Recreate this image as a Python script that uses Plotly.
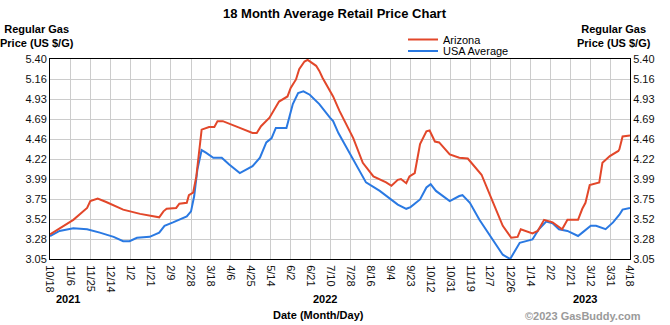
import plotly.graph_objects as go

# ---------------- data ----------------
az_dates = ["2021-10-18", "2021-11-09", "2021-11-22", "2021-11-25", "2021-12-02", "2021-12-10",
            "2021-12-26", "2022-01-11", "2022-01-29", "2022-02-02", "2022-02-05", "2022-02-14",
            "2022-02-17", "2022-02-24", "2022-02-26", "2022-03-02", "2022-03-05", "2022-03-07",
            "2022-03-10", "2022-03-17", "2022-03-22", "2022-03-25", "2022-03-30", "2022-04-15",
            "2022-04-27", "2022-05-01", "2022-05-05", "2022-05-13", "2022-05-22", "2022-05-30",
            "2022-06-02", "2022-06-07", "2022-06-10", "2022-06-15", "2022-06-18", "2022-06-26",
            "2022-06-29", "2022-07-02", "2022-07-12", "2022-07-18", "2022-07-31", "2022-08-09",
            "2022-08-19", "2022-08-31", "2022-09-05", "2022-09-11", "2022-09-14", "2022-09-19",
            "2022-09-22", "2022-09-27", "2022-10-02", "2022-10-08", "2022-10-11", "2022-10-16",
            "2022-10-20", "2022-10-30", "2022-11-08", "2022-11-16", "2022-11-21", "2022-11-29",
            "2022-12-10", "2022-12-19", "2022-12-27", "2023-01-02", "2023-01-05", "2023-01-10",
            "2023-01-16", "2023-01-21", "2023-01-27", "2023-02-04", "2023-02-13", "2023-02-18",
            "2023-02-28", "2023-03-04", "2023-03-07", "2023-03-11", "2023-03-20", "2023-03-23",
            "2023-03-30", "2023-04-07", "2023-04-08", "2023-04-11", "2023-04-18"]
az_values = [3.34, 3.51, 3.65, 3.73, 3.76, 3.72,
             3.63, 3.58, 3.54, 3.61, 3.64, 3.65,
             3.70, 3.71, 3.80, 3.83, 4.02, 4.26,
             4.57, 4.60, 4.60, 4.67, 4.67, 4.59,
             4.53, 4.53, 4.61, 4.71, 4.90, 4.96,
             5.06, 5.16, 5.28, 5.37, 5.39, 5.32,
             5.26, 5.18, 4.96, 4.79, 4.47, 4.18,
             4.02, 3.95, 3.91, 3.98, 3.99, 3.94,
             4.02, 4.06, 4.40, 4.55, 4.56, 4.43,
             4.42, 4.28, 4.24, 4.23, 4.16, 4.04,
             3.71, 3.44, 3.30, 3.31, 3.40, 3.38,
             3.35, 3.38, 3.51, 3.48, 3.40, 3.51,
             3.51, 3.64, 3.71, 3.92, 3.95, 4.18,
             4.26, 4.32, 4.34, 4.49, 4.50]

usa_dates = ["2021-10-18", "2021-10-27", "2021-11-09", "2021-11-22", "2021-12-04", "2021-12-17",
             "2021-12-26", "2022-01-01", "2022-01-08", "2022-01-20", "2022-01-29", "2022-02-03",
             "2022-02-11", "2022-02-17", "2022-02-24", "2022-02-28", "2022-03-03", "2022-03-06",
             "2022-03-10", "2022-03-14", "2022-03-21", "2022-03-29", "2022-04-05", "2022-04-15",
             "2022-04-20", "2022-04-27", "2022-05-04", "2022-05-10", "2022-05-15", "2022-05-19",
             "2022-05-29", "2022-06-01", "2022-06-04", "2022-06-09", "2022-06-14", "2022-06-20",
             "2022-06-29", "2022-07-09", "2022-07-12", "2022-07-17", "2022-07-31", "2022-08-12",
             "2022-08-25", "2022-09-05", "2022-09-11", "2022-09-19", "2022-09-23", "2022-10-02",
             "2022-10-08", "2022-10-12", "2022-10-17", "2022-10-30", "2022-11-08", "2022-11-11",
             "2022-11-18", "2022-11-27", "2022-12-10", "2022-12-19", "2022-12-26", "2022-12-30",
             "2023-01-04", "2023-01-10", "2023-01-16", "2023-01-22", "2023-01-29", "2023-02-04",
             "2023-02-10", "2023-02-18", "2023-02-28", "2023-03-04", "2023-03-12", "2023-03-17",
             "2023-03-21", "2023-03-26", "2023-04-02", "2023-04-08", "2023-04-11", "2023-04-18"]
usa_values = [3.32, 3.38, 3.41, 3.40, 3.36, 3.31,
              3.26, 3.26, 3.30, 3.31, 3.36, 3.44,
              3.48, 3.51, 3.55, 3.61, 3.79, 4.10,
              4.33, 4.30, 4.24, 4.24, 4.16, 4.06,
              4.09, 4.14, 4.24, 4.42, 4.47, 4.59,
              4.59, 4.73, 4.87, 5.00, 5.02, 4.98,
              4.87, 4.71, 4.67, 4.53, 4.22, 3.95,
              3.85, 3.75, 3.69, 3.64, 3.66, 3.75,
              3.89, 3.93, 3.85, 3.73, 3.79, 3.80,
              3.71, 3.51, 3.26, 3.10, 3.05, 3.14,
              3.24, 3.26, 3.28, 3.40, 3.49, 3.47,
              3.40, 3.38, 3.32, 3.36, 3.44, 3.44,
              3.42, 3.40, 3.48, 3.57, 3.63, 3.65]

tick_dates = ["2021-10-18", "2021-11-06", "2021-11-25", "2021-12-14", "2022-01-02", "2022-01-21",
              "2022-02-09", "2022-02-28", "2022-03-18", "2022-04-06", "2022-04-25", "2022-05-14",
              "2022-06-02", "2022-06-21", "2022-07-10", "2022-07-28", "2022-08-16", "2022-09-04",
              "2022-09-23", "2022-10-12", "2022-10-31", "2022-11-19", "2022-12-07", "2022-12-26",
              "2023-01-14", "2023-02-02", "2023-02-21", "2023-03-12", "2023-03-31", "2023-04-18"]
tick_labels = ["10/18", "11/6", "11/25", "12/14", "1/2", "1/21", "2/9", "2/28", "3/18", "4/6",
               "4/25", "5/14", "6/2", "6/21", "7/10", "7/28", "8/16", "9/4", "9/23", "10/12",
               "10/31", "11/19", "12/7", "12/26", "1/14", "2/2", "2/21", "3/12", "3/31", "4/18"]
y_ticks = [3.05, 3.28, 3.52, 3.75, 3.99, 4.22, 4.46, 4.69, 4.93, 5.16, 5.40]
y_labels = ["3.05", "3.28", "3.52", "3.75", "3.99", "4.22", "4.46", "4.69", "4.93", "5.16", "5.40"]
years = ["2021", "2022", "2023"]

# ---------------- figure ----------------
FONT = "Liberation Sans, Arial, sans-serif"
RED = "#E2472A"
BLUE = "#2A79E2"
W, H = 670, 325
L, R, T, B = 50, 40, 59, 66
PW, PH = W - L - R, H - T - B

def px(x):
    return (x - L) / PW

def py(y):
    return (H - B - y) / PH

fig = go.Figure()
fig.add_trace(go.Scatter(x=usa_dates, y=usa_values, mode="lines", name="USA Average",
                         line=dict(color=BLUE, width=2), legend="legend2", yaxis="y"))
fig.add_trace(go.Scatter(x=az_dates, y=az_values, mode="lines", name="Arizona",
                         line=dict(color=RED, width=2), legend="legend", yaxis="y2"))

yax = dict(range=[3.05, 5.40], tickvals=y_ticks, ticktext=y_labels, showgrid=True,
           gridcolor="#cccccc", gridwidth=1, zeroline=False, showline=True, linecolor="black",
           linewidth=1, ticks="", tickfont=dict(family=FONT, size=11, color="#111111"),
           fixedrange=True)

fig.update_layout(
    width=W, height=H,
    margin=dict(l=L, r=R, t=T, b=B),
    paper_bgcolor="white", plot_bgcolor="white",
    font=dict(family=FONT, size=11, color="black"),
    xaxis=dict(type="date", range=["2021-10-18", "2023-04-18"], tickvals=tick_dates,
               ticktext=tick_labels, tickangle=90, showgrid=True, gridcolor="#cccccc",
               gridwidth=1, showline=True, linecolor="black", linewidth=1, mirror=True,
               ticks="", ticklabelstandoff=3,
               tickfont=dict(family=FONT, size=11, color="#111111"), zeroline=False),
    yaxis=dict(**yax, side="left", mirror=True),
    yaxis2=dict(**{**yax, "showgrid": False}, side="right", overlaying="y"),
    legend=dict(x=px(403), y=py(39.5), xanchor="left", yanchor="middle",
                bgcolor="rgba(0,0,0,0)", font=dict(family=FONT, size=11, color="black")),
    legend2=dict(x=px(403), y=py(51), xanchor="left", yanchor="middle",
                 bgcolor="rgba(0,0,0,0)", font=dict(family=FONT, size=11, color="black")),
    showlegend=True,
)

ann = []
ann.append(dict(text="<b>18 Month Average Retail Price Chart</b>", x=px(335), y=py(14),
                font=dict(family=FONT, size=13, color="black")))
ann.append(dict(text="<b>Regular Gas<br>Price (US $/G)</b>", x=px(37), y=py(36),
                font=dict(family=FONT, size=11, color="black")))
ann.append(dict(text="<b>Regular Gas<br>Price (US $/G)</b>", x=px(614), y=py(36),
                font=dict(family=FONT, size=11, color="black")))
for yr, xc in zip(years, [68, 325, 585]):
    ann.append(dict(text="<b>" + yr + "</b>", x=px(xc), y=py(299),
                    font=dict(family=FONT, size=11, color="black")))
ann.append(dict(text="<b>Date (Month/Day)</b>", x=px(318), y=py(315),
                font=dict(family=FONT, size=11, color="black")))
ann.append(dict(text="<b>©2023 GasBuddy.com</b>", x=px(583), y=py(316),
                font=dict(family=FONT, size=11, color="#9a9a9a")))
for a in ann:
    a.update(xref="paper", yref="paper", showarrow=False, xanchor="center", yanchor="middle")
fig.update_layout(annotations=ann)

fig.write_html("out.html")
